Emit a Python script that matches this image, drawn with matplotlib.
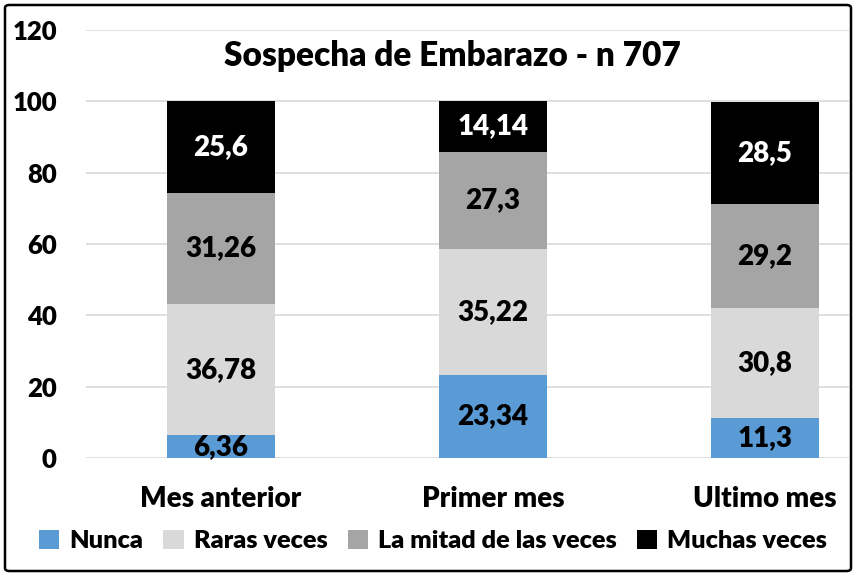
import numpy as np
import matplotlib.pyplot as plt
from matplotlib.patches import FancyBboxPatch

# data
categories = ['Mes anterior', 'Primer mes', 'Ultimo mes']
series = ['Nunca', 'Raras veces', 'La mitad de las veces', 'Muchas veces']
nunca = [6.36, 23.34, 11.3]
raras = [36.78, 35.22, 30.8]
mitad = [31.26, 27.3, 29.2]
muchas = [25.6, 14.14, 28.5]
labels_nunca = ['6,36', '23,34', '11,3']
labels_raras = ['36,78', '35,22', '30,8']
labels_mitad = ['31,26', '27,3', '29,2']
labels_muchas = ['25,6', '14,14', '28,5']

colors = ['#5B9BD5', '#D9D9D9', '#A5A5A5', '#000000']
text_colors = ['#000000', '#000000', '#000000', '#FFFFFF']

plt.rcParams['font.family'] = ['Lato', 'DejaVu Sans']
plt.rcParams['font.weight'] = 'bold'

fig = plt.figure(figsize=(8.57, 5.77), dpi=100)
ax = fig.add_axes([86 / 857, 1 - 458 / 577, (849 - 86) / 857, 428 / 577])

x = np.arange(len(categories))
bottom = np.zeros(len(categories))
all_vals = [nunca, raras, mitad, muchas]
all_labels = [labels_nunca, labels_raras, labels_mitad, labels_muchas]
for vals, labs, name, c, tc in zip(all_vals, all_labels, series, colors, text_colors):
    bars = ax.bar(x, vals, width=0.4, bottom=bottom, color=c, label=name, zorder=2)
    ax.bar_label(bars, labels=labs, label_type='center', color=tc,
                 fontsize=20, fontweight='heavy')
    bottom += np.array(vals)

ax.set_ylim(0, 120)
ax.set_yticks(range(0, 121, 20))
ax.set_xlim(-0.496, 2.309)
ax.set_xticks(x)
ax.set_xticklabels(categories)
ax.tick_params(axis='x', length=0, labelsize=20, pad=20)
ax.tick_params(axis='y', length=0, labelsize=18.5, pad=21)
for t in ax.get_yticklabels() + ax.get_xticklabels():
    t.set_fontweight('heavy')
ax.grid(axis='y', color='#D9D9D9', linewidth=1.2, zorder=0)
for s in ax.spines.values():
    s.set_visible(False)

fig.text(452 / 857, 1 - 56 / 577, 'Sospecha de Embarazo - n 707', ha='center', va='center',
         fontsize=24, fontweight='heavy')

leg = fig.legend(loc='center', bbox_to_anchor=(433 / 857, 1 - 541 / 577), ncol=4,
                 frameon=False, fontsize=18.2, handlelength=0.8, handleheight=0.8,
                 handletextpad=0.4, columnspacing=0.8)
for t in leg.get_texts():
    t.set_fontweight('heavy')

border = FancyBboxPatch((5 / 857, 6 / 577), 846 / 857, 566 / 577,
                        boxstyle='round,pad=0,rounding_size=0.005',
                        transform=fig.transFigure, fill=False,
                        edgecolor='#000000', linewidth=1.8)
fig.patches.append(border)

fig.savefig('out.png', dpi=100)
